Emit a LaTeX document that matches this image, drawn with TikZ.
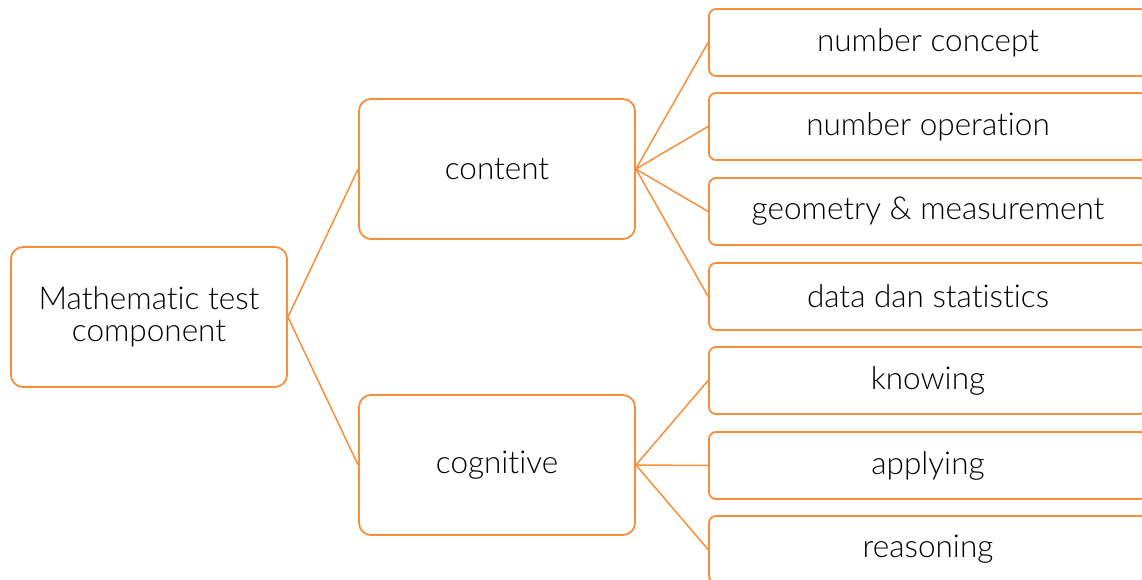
\documentclass[tikz,border=0pt]{standalone}
\usepackage{fontspec}
\setmainfont{Lato Light}[Ligatures={NoCommon,NoRare}]
\definecolor{treeorange}{RGB}{247,142,60}
\begin{document}
\begin{tikzpicture}[x=1pt,y=-1pt,
  every node/.style={font=\fontsize{31.5}{33}\selectfont, text=black},
  bigbox/.style={draw=treeorange, line width=1.8pt, rounded corners=12pt,
    minimum width=276pt, minimum height=140pt, align=center, fill=white},
  leafbox/.style={draw=treeorange, line width=1.8pt, rounded corners=7pt,
    minimum width=438pt, minimum height=67pt, fill=white},
  link/.style={draw=treeorange, line width=1.5pt}]
\useasboundingbox (0,0) rectangle (1142,580);
\clip (0,0) rectangle (1142,580);

% levels of the tree
\node[bigbox] (root) at (149,317) {Mathematic test\\[-1pt]component};
\node[bigbox] (content) at (497,169) {content};
\node[bigbox] (cognitive) at (497,465) {cognitive};

\node[leafbox] (nc) at (928,42.5) {number concept};
\node[leafbox] (no) at (928,126.5) {number operation};
\node[leafbox] (gm) at (928,211.5) {geometry \& measurement};
\node[leafbox] (ds) at (928,296.5) {data dan statistics};
\node[leafbox] (kn) at (928,380.5) {knowing};
\node[leafbox] (ap) at (928,465.5) {applying};
\node[leafbox] (re) at (928,549.5) {reasoning};

% connectors
\draw[link] (root.east) -- (content.west);
\draw[link] (root.east) -- (cognitive.west);
\foreach \leaf in {nc,no,gm,ds}
  \draw[link] (content.east) -- (\leaf.west);
\foreach \leaf in {kn,ap,re}
  \draw[link] (cognitive.east) -- (\leaf.west);
\end{tikzpicture}
\end{document}
